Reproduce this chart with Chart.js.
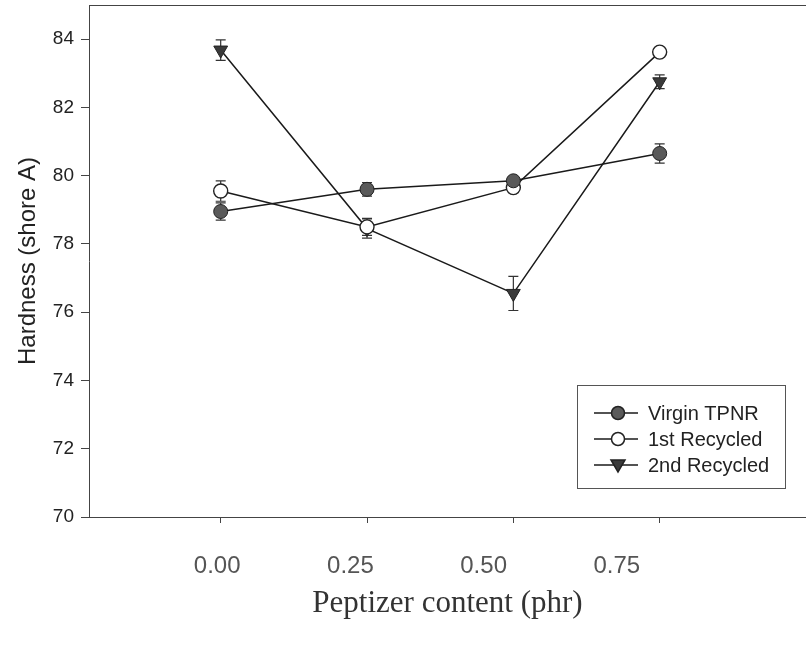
<!DOCTYPE html>
<html>
<head>
<meta charset="utf-8">
<script src="https://cdn.jsdelivr.net/npm/chart.js@4/dist/chart.umd.min.js"></script>
<style>
  html, body { margin: 0; padding: 0; background: #fff; }
  #wrap { width: 806px; height: 646px; position: relative; }
</style>
</head>
<body>
<div id="wrap"><canvas id="chart"></canvas></div>
<script>
/* Peptizer content (phr) */
const peptizer = [0, 0.25, 0.5, 0.75];
const tickLabels = ['0.00', '0.25', '0.50', '0.75'];
const yTicks = [70, 72, 74, 76, 78, 80, 82, 84];

/* Hardness (shore A) and error bars */
const virginTPNR = [78.95, 79.6, 79.85, 80.65];
const virginErr = [0.25, 0.2, 0.1, 0.28];
const recycled1 = [79.55, 78.5, 79.65, 83.62];
const recycled1Err = [0.3, 0.25, 0.15, 0.1];
const recycled2 = [83.68, 78.45, 76.55, 82.75];
const recycled2Err = [0.3, 0.28, 0.5, 0.2];

const seriesNames = ['Virgin TPNR', '1st Recycled', '2nd Recycled'];

function toPoints(ys) {
    return peptizer.map((x, i) => ({ x: x, y: ys[i] }));
}

/* no extra room for edge labels, the frame sits on the canvas edges */
function noPad(s) {
    s.paddingLeft = 0;
    s.paddingRight = 0;
    s.paddingTop = 0;
    s.paddingBottom = 0;
}

/* Draws vertical error bars with caps under the markers */
const errorBars = {
    id: 'errorBars',
    beforeDatasetsDraw(chart) {
        const ctx = chart.ctx;
        const yScale = chart.scales.y;
        ctx.save();
        ctx.strokeStyle = '#333';
        ctx.lineWidth = 1.2;
        chart.data.datasets.forEach((ds, i) => {
            const meta = chart.getDatasetMeta(i);
            meta.data.forEach((pt, j) => {
                const v = ds.data[j].y;
                const e = ds.errors[j];
                const top = yScale.getPixelForValue(v + e);
                const bot = yScale.getPixelForValue(v - e);
                ctx.beginPath();
                ctx.moveTo(pt.x, top);
                ctx.lineTo(pt.x, bot);
                ctx.moveTo(pt.x - 5, top);
                ctx.lineTo(pt.x + 5, top);
                ctx.moveTo(pt.x - 5, bot);
                ctx.lineTo(pt.x + 5, bot);
                ctx.stroke();
            });
        });
        ctx.restore();
    }
};

/* Boxed legend inside the lower right of the plot */
const boxLegend = {
    id: 'boxLegend',
    afterDraw(chart) {
        const ctx = chart.ctx;
        const area = chart.chartArea;
        const left = area.right - 229;
        const top = area.bottom - 132;
        ctx.save();
        ctx.strokeStyle = '#555';
        ctx.lineWidth = 1;
        ctx.strokeRect(left + 0.5, top + 0.5, 208, 103);
        ctx.font = '20px "Liberation Sans", Arial, sans-serif';
        ctx.textBaseline = 'middle';
        chart.data.datasets.forEach((ds, i) => {
            const y = top + 28 + i * 26;
            const cx = left + 41;
            ctx.strokeStyle = '#1a1a1a';
            ctx.lineWidth = 1.5;
            ctx.beginPath();
            ctx.moveTo(left + 17, y);
            ctx.lineTo(left + 61, y);
            ctx.stroke();
            ctx.fillStyle = ds.pointBackgroundColor;
            ctx.strokeStyle = ds.pointBorderColor;
            ctx.beginPath();
            if (ds.pointStyle === 'triangle') {
                ctx.moveTo(cx - 7, y - 5);
                ctx.lineTo(cx + 7, y - 5);
                ctx.lineTo(cx, y + 7);
                ctx.closePath();
            } else {
                ctx.arc(cx, y, 6.5, 0, Math.PI * 2);
            }
            ctx.fill();
            ctx.stroke();
            ctx.fillStyle = '#222';
            ctx.fillText(ds.label, left + 71, y + 1);
        });
        ctx.restore();
    }
};

const lineStyle = { borderColor: '#1a1a1a', borderWidth: 1.5, tension: 0 };

new Chart(document.getElementById('chart'), {
    type: 'line',
    data: {
        datasets: [
            Object.assign({
                label: seriesNames[0], data: toPoints(virginTPNR), errors: virginErr,
                pointStyle: 'circle', pointRadius: 7, pointBackgroundColor: '#5a5a5a',
                pointBorderColor: '#222', pointBorderWidth: 1
            }, lineStyle),
            Object.assign({
                label: seriesNames[1], data: toPoints(recycled1), errors: recycled1Err,
                pointStyle: 'circle', pointRadius: 7, pointBackgroundColor: '#fff',
                pointBorderColor: '#222', pointBorderWidth: 1.4
            }, lineStyle),
            Object.assign({
                label: seriesNames[2], data: toPoints(recycled2), errors: recycled2Err,
                pointStyle: 'triangle', pointRotation: 180, pointRadius: 8,
                pointBackgroundColor: '#3a3a3a', pointBorderColor: '#222', pointBorderWidth: 1
            }, lineStyle)
        ]
    },
    options: {
        responsive: true,
        maintainAspectRatio: false,
        animation: false,
        layout: { autoPadding: false, padding: { left: 4, top: 5, right: 0, bottom: 0 } },
        plugins: {
            legend: { display: false },
            tooltip: { enabled: false }
        },
        scales: {
            x: {
                type: 'linear',
                position: 'bottom',
                min: -0.225,
                max: 1.0,
                afterBuildTicks: s => { s.ticks = peptizer.map(v => ({ value: v })); },
                afterFit: s => { s.height = 6; noPad(s); },
                ticks: { display: false },
                grid: { drawOnChartArea: false, tickLength: 6, color: '#444' },
                border: { color: '#444', width: 1 }
            },
            xLabels: {
                type: 'linear',
                position: 'bottom',
                min: -0.2406,
                max: 1.105,
                afterBuildTicks: s => { s.ticks = peptizer.map(v => ({ value: v })); },
                afterFit: s => { s.height = 123; noPad(s); },
                ticks: {
                    padding: 29,
                    color: '#555',
                    font: { family: '"Liberation Sans", Arial, sans-serif', size: 24 },
                    callback: v => tickLabels[peptizer.indexOf(v)]
                },
                grid: { display: false, drawTicks: false },
                border: { display: false },
                title: {
                    display: true,
                    text: 'Peptizer content (phr)',
                    color: '#333',
                    font: { family: '"Liberation Serif", "Times New Roman", serif', size: 31 },
                    padding: { top: 0, bottom: 24 }
                }
            },
            xTop: {
                type: 'linear',
                position: 'top',
                min: -0.225,
                max: 1.0,
                afterFit: s => { s.height = 0; noPad(s); },
                ticks: { display: false },
                grid: { display: false, drawTicks: false },
                border: { display: true, color: '#444', width: 1 }
            },
            y: {
                min: 70,
                max: 85,
                afterBuildTicks: s => { s.ticks = yTicks.map(v => ({ value: v })); },
                afterFit: s => { s.width = 85; noPad(s); },
                ticks: {
                    padding: 7,
                    color: '#222',
                    font: { family: '"Liberation Sans", Arial, sans-serif', size: 19 }
                },
                grid: { drawOnChartArea: false, tickLength: 8, color: '#444' },
                border: { color: '#444', width: 1 },
                title: {
                    display: true,
                    text: 'Hardness (shore A)',
                    color: '#222',
                    font: { family: '"Liberation Sans", Arial, sans-serif', size: 24 },
                    padding: { top: 10, bottom: 8 }
                }
            }
        }
    },
    plugins: [errorBars, boxLegend]
});
</script>
</body>
</html>
